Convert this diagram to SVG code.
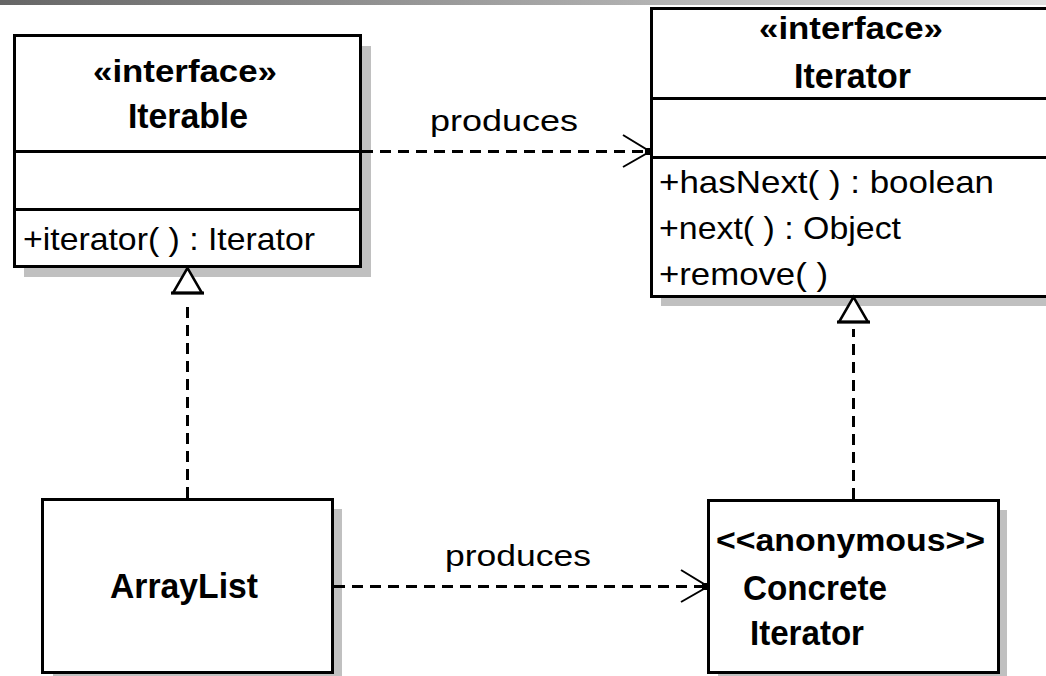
<svg xmlns="http://www.w3.org/2000/svg" width="1046" height="676" viewBox="0 0 1046 676">
  <defs>
    <linearGradient id="topBar" x1="0" y1="0" x2="1" y2="0">
      <stop offset="0" stop-color="#666666"/>
      <stop offset="1" stop-color="#e0e0e0"/>
    </linearGradient>
    <style>
      .shadow { fill: #c0c0c0; stroke: none; }
      .box { fill: #ffffff; stroke: #000000; stroke-width: 3; shape-rendering: crispEdges; }
      .sep { stroke: #000000; stroke-width: 3; shape-rendering: crispEdges; }
      .dash { fill: none; stroke: #000000; stroke-width: 3; stroke-dasharray: 11 7; shape-rendering: crispEdges; }
      .open { fill: none; stroke: #000000; stroke-width: 2; }
      .tri { fill: #ffffff; stroke: #000000; stroke-width: 2.5; stroke-linejoin: miter; }
      .head { font-family: "Liberation Sans", Arial, sans-serif; font-weight: bold; font-size: 35px; fill: #000000; }
      .stereo { font-family: "Liberation Sans", Arial, sans-serif; font-weight: bold; font-size: 32px; fill: #000000; }
      .member { font-family: "Liberation Sans", Arial, sans-serif; font-size: 32px; fill: #000000; }
      .label { font-family: "Liberation Sans", Arial, sans-serif; font-size: 30px; fill: #000000; }
    </style>
  </defs>

  <rect width="1046" height="676" fill="#ffffff"/>
  <rect x="0" y="0" width="1046" height="5" fill="url(#topBar)"/>

  <!-- Iterable interface -->
  <g id="iterable">
    <rect class="shadow" x="24" y="46" width="347" height="231"/>
    <rect class="box" x="14.5" y="35.5" width="346" height="231"/>
    <line class="sep" x1="14.5" y1="151.5" x2="360.5" y2="151.5"/>
    <line class="sep" x1="14.5" y1="209.5" x2="360.5" y2="209.5"/>
    <text class="stereo" x="93" y="82" textLength="184" lengthAdjust="spacingAndGlyphs">«interface»</text>
    <text class="head" x="128" y="128" textLength="120" lengthAdjust="spacingAndGlyphs">Iterable</text>
    <text class="member" x="23" y="250" textLength="292" lengthAdjust="spacingAndGlyphs">+iterator( ) : Iterator</text>
  </g>

  <!-- Iterator interface -->
  <g id="iterator">
    <rect class="shadow" x="661" y="18" width="420" height="288"/>
    <rect class="box" x="651.5" y="8.5" width="420" height="287.5"/>
    <line class="sep" x1="651.5" y1="98.5" x2="1071" y2="98.5"/>
    <line class="sep" x1="651.5" y1="157.5" x2="1071" y2="157.5"/>
    <text class="stereo" x="759" y="39" textLength="184" lengthAdjust="spacingAndGlyphs">«interface»</text>
    <text class="head" x="794" y="88" textLength="117" lengthAdjust="spacingAndGlyphs">Iterator</text>
    <text class="member" x="659" y="193" textLength="335" lengthAdjust="spacingAndGlyphs">+hasNext( ) : boolean</text>
    <text class="member" x="659" y="239" textLength="242" lengthAdjust="spacingAndGlyphs">+next( ) : Object</text>
    <text class="member" x="659" y="285" textLength="169" lengthAdjust="spacingAndGlyphs">+remove( )</text>
  </g>

  <!-- ArrayList class -->
  <g id="arraylist">
    <rect class="shadow" x="53" y="509" width="289" height="167"/>
    <rect class="box" x="42.5" y="499.5" width="290" height="173"/>
    <text class="head" x="110" y="598" textLength="148" lengthAdjust="spacingAndGlyphs">ArrayList</text>
  </g>

  <!-- anonymous concrete iterator -->
  <g id="concrete-iterator">
    <rect class="shadow" x="718" y="510" width="289" height="166"/>
    <rect class="box" x="708.5" y="500.5" width="289.5" height="172"/>
    <text class="stereo" x="716" y="551" textLength="269" lengthAdjust="spacingAndGlyphs">&lt;&lt;anonymous&gt;&gt;</text>
    <text class="head" x="743" y="600" textLength="144" lengthAdjust="spacingAndGlyphs">Concrete</text>
    <text class="head" x="750" y="645" textLength="114" lengthAdjust="spacingAndGlyphs">Iterator</text>
  </g>

  <!-- dependencies and realizations -->
  <g id="connectors">
    <!-- Iterable produces Iterator -->
    <line class="dash" x1="362" y1="151.5" x2="648" y2="151.5"/>
    <polyline class="open" points="623,135 650,151.5 623,167"/>
    <rect x="645" y="148" width="6" height="7" fill="#000000"/>
    <text class="label" x="430" y="131" textLength="148" lengthAdjust="spacingAndGlyphs">produces</text>

    <!-- ArrayList produces ConcreteIterator -->
    <line class="dash" x1="334" y1="586.5" x2="705" y2="586.5"/>
    <polyline class="open" points="681,570 708,586.5 681,602"/>
    <rect x="702" y="583" width="6" height="7" fill="#000000"/>
    <text class="label" x="445" y="566" textLength="146" lengthAdjust="spacingAndGlyphs">produces</text>

    <!-- ArrayList realizes Iterable -->
    <line class="dash" x1="187.5" y1="498" x2="187.5" y2="300"/>
    <polygon class="tri" points="187.5,268 173,293 202,293"/>
    <line x1="171" y1="293" x2="204" y2="293" stroke="#000000" stroke-width="3"/>

    <!-- ConcreteIterator realizes Iterator -->
    <line class="dash" x1="853.5" y1="499" x2="853.5" y2="329"/>
    <polygon class="tri" points="853.5,297 839,322 868,322"/>
    <line x1="837" y1="322" x2="870" y2="322" stroke="#000000" stroke-width="3"/>
  </g>
</svg>
